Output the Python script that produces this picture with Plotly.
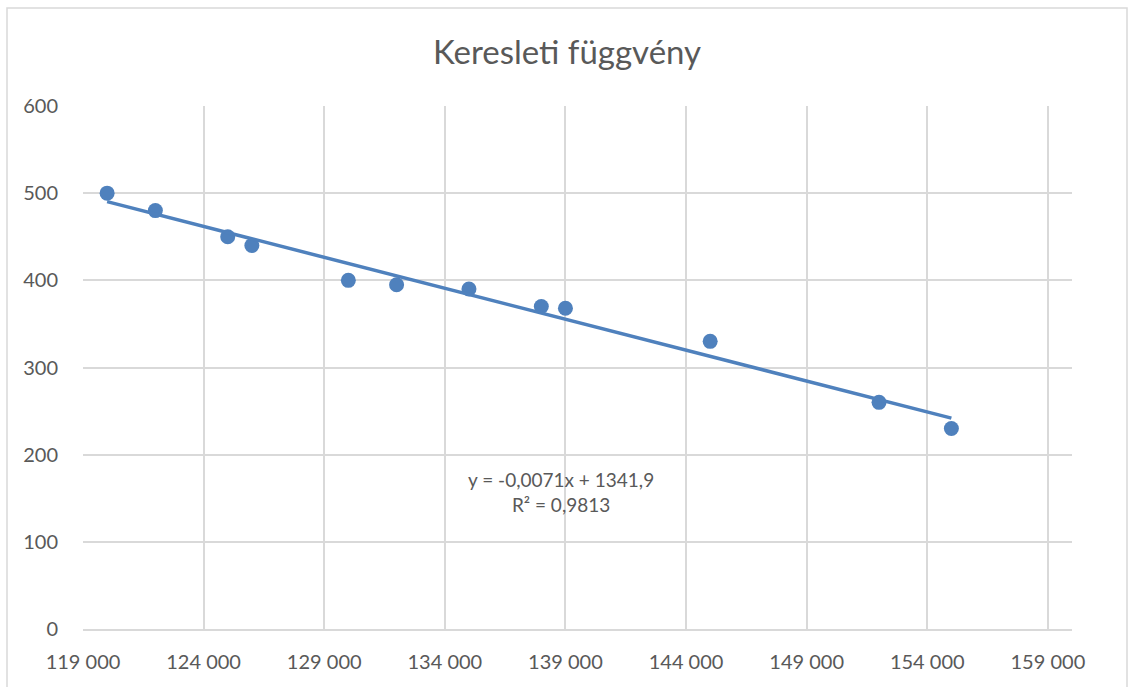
import numpy as np
import plotly.graph_objects as go

# Data (quantity vs price)
x_vals = [120000, 122000, 125000, 126000, 130000, 132000, 135000, 138000, 139000, 145000, 152000, 155000]
y_vals = [500, 480, 450, 440, 400, 395, 390, 370, 368, 330, 260, 230]
x_ticks = [119000, 124000, 129000, 134000, 139000, 144000, 149000, 154000, 159000]
y_ticks = [0, 100, 200, 300, 400, 500, 600]
title_text = "Keresleti függvény"
eq_text = "y = -0,0071x + 1341,9<br>R² = 0,9813"

slope, intercept = np.polyfit(x_vals, y_vals, 1)
tx = [min(x_vals), max(x_vals)]
ty = [slope * v + intercept for v in tx]

blue = "#4F81BD"
txt = "#595959"
grid = "#D9D9D9"
font = "Lato, 'Open Sans', sans-serif"

fig = go.Figure()
fig.add_trace(go.Scatter(x=x_vals, y=y_vals, mode="markers",
                         marker=dict(size=15, color=blue), showlegend=False, hoverinfo="x+y"))
fig.add_trace(go.Scatter(x=tx, y=ty, mode="lines",
                         line=dict(color=blue, width=3.5), showlegend=False, hoverinfo="skip"))

fig.add_annotation(x=138800, y=157, xref="x", yref="y", text=eq_text, showarrow=False,
                   font=dict(family=font, size=19, color=txt), align="center")

fig.update_layout(
    width=1134, height=687,
    paper_bgcolor="white", plot_bgcolor="white",
    margin=dict(l=83, r=62, t=106, b=58),
    separators=", ",
    font=dict(family=font, color=txt, size=20),
    title=dict(text=title_text, x=0.5, xanchor="center", y=1 - 52 / 687, yanchor="middle",
               font=dict(family=font, size=33, color=txt)),
    xaxis=dict(range=[119000, 160000], tickvals=x_ticks, tickformat=",d",
               showgrid=True, gridcolor=grid, gridwidth=1.5, zeroline=False,
               showline=True, linecolor=grid, linewidth=2,
               ticks="outside", ticklen=14, tickcolor="rgba(0,0,0,0)",
               tickfont=dict(family=font, size=20, color=txt)),
    yaxis=dict(range=[0, 600], tickvals=y_ticks,
               showgrid=True, gridcolor=grid, gridwidth=1.5, zeroline=False,
               showline=False,
               ticks="outside", ticklen=20, tickcolor="rgba(0,0,0,0)",
               tickfont=dict(family=font, size=20, color=txt)),
    shapes=[dict(type="rect", xref="paper", yref="paper",
                 x0=-76 / 989, x1=1 + 55 / 989, y0=-60 / 523, y1=1 + 98 / 523,
                 line=dict(color=grid, width=1.5), fillcolor="rgba(0,0,0,0)", layer="below")],
)

fig.write_html("out.html", config={"displayModeBar": False},
               post_script="document.body.style.margin='0';document.body.style.overflow='hidden';")
